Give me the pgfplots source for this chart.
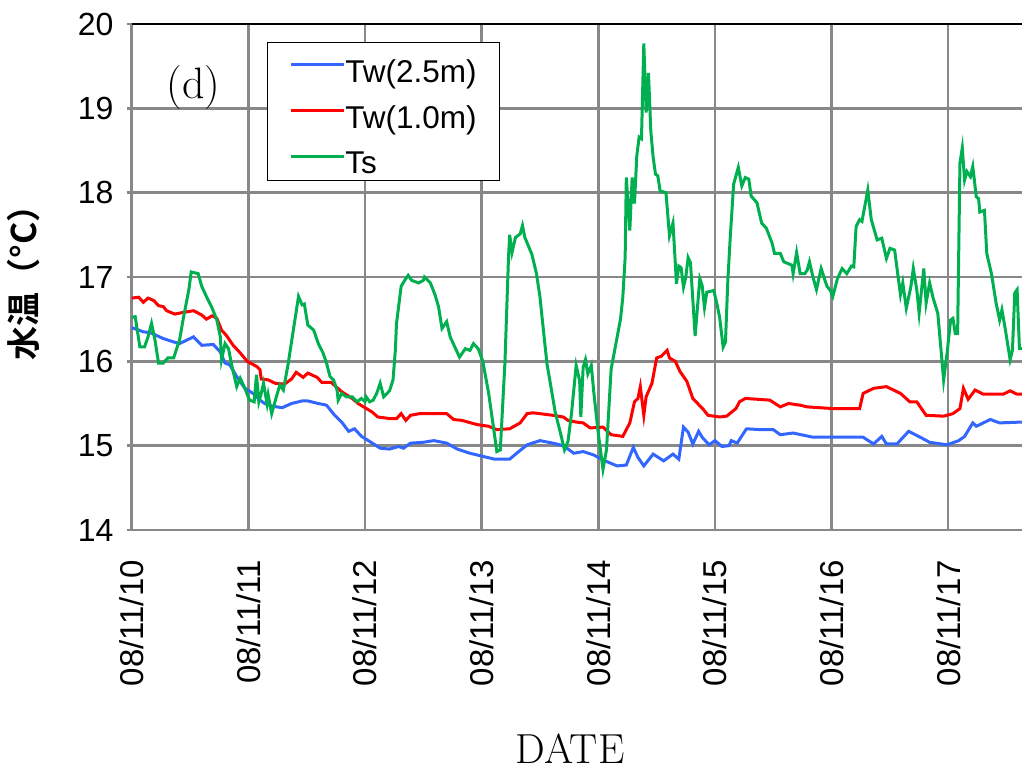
\documentclass[border=0pt]{standalone}
\usepackage{fontspec}
\usepackage{pgfplots}
\usepackage{pgfplotstable}
\pgfplotsset{compat=1.18}
\newfontfamily\arial{Liberation Sans}
\newfontfamily\cjk{Noto Sans CJK JP}[BoldFont={Noto Sans CJK JP Bold}]
\definecolor{cblue}{RGB}{51,102,255}
\definecolor{cred}{RGB}{255,0,0}
\definecolor{cgreen}{RGB}{0,176,80}
\definecolor{cgrid}{RGB}{136,136,136}

\pgfplotstableread{
d v
0.00 16.40
0.10 16.35
0.16 16.34
0.27 16.27
0.36 16.23
0.41 16.21
0.53 16.29
0.60 16.19
0.70 16.20
0.76 16.11
0.80 15.98
0.84 15.96
0.90 15.82
0.97 15.68
1.04 15.62
1.10 15.54
1.14 15.50
1.20 15.47
1.29 15.45
1.37 15.50
1.46 15.53
1.51 15.53
1.60 15.50
1.67 15.48
1.74 15.36
1.80 15.28
1.86 15.17
1.91 15.20
1.97 15.11
2.04 15.05
2.13 14.97
2.21 14.96
2.29 14.99
2.33 14.97
2.39 15.03
2.50 15.04
2.59 15.06
2.70 15.03
2.79 14.96
2.90 14.91
2.99 14.88
3.11 14.84
3.24 14.84
3.30 14.91
3.39 15.01
3.50 15.06
3.61 15.03
3.70 15.00
3.79 14.91
3.87 14.93
3.96 14.89
4.04 14.83
4.16 14.76
4.24 14.77
4.30 14.98
4.34 14.86
4.39 14.76
4.47 14.90
4.56 14.82
4.64 14.90
4.69 14.84
4.73 15.22
4.77 15.16
4.81 15.02
4.86 15.17
4.89 15.10
4.95 15.01
5.00 15.06
5.06 14.99
5.12 15.00
5.14 15.06
5.19 15.03
5.27 15.20
5.39 15.19
5.50 15.19
5.56 15.13
5.67 15.15
5.84 15.10
6.07 15.10
6.27 15.10
6.36 15.02
6.43 15.11
6.47 15.02
6.56 15.02
6.66 15.17
6.76 15.10
6.84 15.04
6.99 15.01
7.09 15.06
7.14 15.11
7.21 15.27
7.24 15.23
7.36 15.31
7.44 15.27
7.63 15.28
}\blue

\pgfplotstableread{
d v
0.00 16.75
0.06 16.76
0.10 16.70
0.14 16.75
0.19 16.72
0.23 16.66
0.27 16.65
0.30 16.60
0.37 16.56
0.44 16.58
0.53 16.60
0.60 16.55
0.64 16.50
0.69 16.54
0.73 16.51
0.77 16.37
0.81 16.31
0.87 16.19
0.93 16.10
0.99 16.00
1.07 15.94
1.10 15.90
1.11 15.79
1.17 15.78
1.23 15.74
1.31 15.73
1.37 15.79
1.41 15.87
1.47 15.81
1.51 15.86
1.59 15.81
1.63 15.75
1.71 15.75
1.80 15.64
1.89 15.56
1.94 15.50
2.00 15.45
2.06 15.40
2.11 15.34
2.22 15.32
2.27 15.32
2.31 15.38
2.35 15.30
2.39 15.36
2.47 15.38
2.70 15.38
2.76 15.31
2.83 15.30
2.96 15.25
3.06 15.23
3.13 15.19
3.24 15.20
3.33 15.27
3.39 15.38
3.44 15.39
3.61 15.36
3.70 15.34
3.74 15.30
3.81 15.28
3.87 15.27
3.93 15.21
4.04 15.22
4.11 15.13
4.21 15.11
4.27 15.27
4.31 15.52
4.34 15.56
4.36 15.70
4.39 15.36
4.41 15.58
4.46 15.74
4.50 16.04
4.54 16.06
4.59 16.13
4.61 16.04
4.66 16.00
4.70 15.88
4.76 15.76
4.81 15.56
4.90 15.43
4.94 15.36
5.04 15.34
5.10 15.35
5.18 15.44
5.21 15.52
5.26 15.56
5.47 15.54
5.56 15.46
5.63 15.50
5.73 15.48
5.79 15.46
6.01 15.44
6.24 15.44
6.27 15.62
6.36 15.68
6.47 15.70
6.59 15.62
6.67 15.52
6.73 15.52
6.81 15.36
6.96 15.35
7.04 15.38
7.10 15.44
7.13 15.68
7.17 15.55
7.23 15.66
7.30 15.61
7.47 15.61
7.53 15.65
7.59 15.61
7.63 15.61
}\red

\pgfplotstableread{
d v
0.00 16.52
0.03 16.53
0.07 16.17
0.11 16.17
0.14 16.29
0.17 16.45
0.20 16.25
0.23 15.98
0.27 15.98
0.31 16.04
0.36 16.04
0.39 16.17
0.41 16.25
0.44 16.49
0.49 16.85
0.51 17.06
0.57 17.04
0.60 16.89
0.64 16.77
0.69 16.63
0.73 16.49
0.76 16.29
0.77 16.02
0.80 16.21
0.83 16.15
0.86 15.94
0.90 15.70
0.93 15.80
0.97 15.68
1.01 15.54
1.05 15.52
1.07 15.84
1.09 15.52
1.11 15.62
1.13 15.74
1.16 15.50
1.17 15.60
1.20 15.38
1.24 15.58
1.27 15.72
1.30 15.66
1.34 15.96
1.39 16.41
1.43 16.77
1.46 16.67
1.48 16.68
1.51 16.43
1.56 16.37
1.60 16.21
1.64 16.10
1.67 15.98
1.70 15.82
1.73 15.78
1.76 15.66
1.77 15.54
1.80 15.62
1.84 15.58
1.89 15.58
1.93 15.52
1.97 15.56
2.00 15.52
2.01 15.58
2.04 15.52
2.07 15.54
2.10 15.62
2.13 15.74
2.16 15.58
2.21 15.65
2.24 15.78
2.26 16.13
2.27 16.45
2.31 16.89
2.34 16.96
2.37 17.02
2.40 16.96
2.46 16.93
2.50 16.96
2.51 17.00
2.56 16.93
2.60 16.79
2.63 16.65
2.66 16.39
2.70 16.47
2.73 16.29
2.77 16.17
2.81 16.05
2.86 16.15
2.90 16.13
2.93 16.21
2.97 16.15
3.01 16.00
3.06 15.62
3.10 15.23
3.13 14.93
3.16 14.95
3.20 16.00
3.23 17.23
3.24 17.50
3.26 17.29
3.29 17.47
3.33 17.51
3.35 17.61
3.37 17.47
3.40 17.37
3.43 17.27
3.47 17.04
3.50 16.76
3.53 16.36
3.56 15.97
3.59 15.73
3.63 15.40
3.67 15.18
3.71 14.95
3.74 15.05
3.77 15.38
3.81 15.95
3.84 15.77
3.85 15.34
3.87 15.93
3.89 16.02
3.91 15.85
3.94 15.95
3.96 15.65
4.00 15.14
4.04 14.72
4.07 14.95
4.11 15.91
4.14 16.13
4.19 16.50
4.21 16.76
4.23 17.23
4.24 18.18
4.27 17.55
4.29 18.18
4.31 17.87
4.33 18.44
4.35 18.66
4.37 18.64
4.39 19.77
4.41 18.95
4.43 19.42
4.45 18.73
4.47 18.42
4.49 18.22
4.51 18.20
4.53 18.02
4.58 18.00
4.61 17.49
4.64 17.64
4.67 16.92
4.69 17.13
4.71 17.11
4.73 16.88
4.75 17.00
4.77 17.23
4.79 17.17
4.83 16.30
4.87 16.98
4.89 16.90
4.91 16.64
4.93 16.82
4.99 16.84
5.02 16.66
5.04 16.52
5.07 16.17
5.09 16.23
5.11 16.95
5.13 17.45
5.16 18.10
5.20 18.30
5.23 18.08
5.26 18.18
5.29 18.16
5.31 17.96
5.36 17.88
5.40 17.64
5.44 17.58
5.49 17.40
5.51 17.28
5.56 17.28
5.59 17.18
5.66 17.14
5.67 17.04
5.70 17.29
5.73 17.04
5.77 17.04
5.79 17.08
5.81 17.18
5.84 17.00
5.87 16.85
5.91 17.10
5.96 16.89
5.99 16.84
6.01 16.77
6.05 16.98
6.09 17.10
6.13 17.04
6.17 17.13
6.19 17.12
6.21 17.60
6.24 17.68
6.26 17.66
6.31 18.03
6.34 17.68
6.39 17.44
6.43 17.46
6.47 17.22
6.50 17.34
6.54 17.32
6.59 16.79
6.61 16.93
6.64 16.63
6.68 16.89
6.70 17.10
6.73 16.85
6.75 16.57
6.79 17.10
6.81 16.69
6.84 16.93
6.87 16.75
6.91 16.57
6.94 16.10
6.96 15.78
6.99 16.10
7.02 16.49
7.04 16.51
7.06 16.33
7.08 16.33
7.10 18.35
7.12 18.53
7.14 18.15
7.16 18.25
7.19 18.19
7.21 18.31
7.24 17.95
7.26 17.93
7.27 17.77
7.31 17.79
7.33 17.28
7.37 17.04
7.41 16.69
7.44 16.49
7.46 16.61
7.49 16.37
7.53 16.02
7.55 16.13
7.57 16.81
7.59 16.85
7.61 16.15
7.63 16.15
}\green

\begin{document}
\begin{tikzpicture}
\path[use as bounding box] (-131.7pt,-240pt) rectangle (890.3pt,530pt);
\begin{axis}[
  at={(0pt,0pt)}, anchor=south west,
  scale only axis, width=890.3pt, height=506pt,
  xmin=0, xmax=7.632, ymin=14, ymax=20,
  clip=false,
  axis x line*=bottom, axis y line*=left,
  axis line style={cgrid, line width=2.6pt},
  grid=major,
  grid style={cgrid, line width=2.4pt},
  xtick={0,1,2,3,4,5,6,7},
  xticklabels={08/11/10,08/11/11,08/11/12,08/11/13,08/11/14,08/11/15,08/11/16,08/11/17},
  ytick={14,15,16,17,18,19,20},
  tick align=outside,
  major tick length=5pt,
  xtick style={draw=none},
  ytick style={cgrid, line width=2.4pt},
  /pgf/number format/assume math mode=true,
  xticklabel style={font=\arial\fontsize{33}{33}\selectfont, rotate=90, anchor=east, inner sep=0pt},
  xticklabel shift=25pt,
  yticklabel style={font=\arial\fontsize{32}{32}\selectfont, anchor=east, inner sep=0pt},
  yticklabel shift=13pt,
  xlabel={DATE},
  xlabel style={font=\fontsize{42}{44}\selectfont, at={(axis description cs:0.4923,0)}, anchor=base, yshift=-233pt},
  ylabel={\cjk\bfseries 水温（°C）},
  ylabel style={font=\fontsize{34}{36}\selectfont, at={(axis description cs:-0.1215,0.505)}, anchor=center, rotate=0},
  legend style={at={(axis description cs:0.1516,0.965)}, anchor=north west,
    draw=black, line width=1.3pt, fill=white,
    font=\arial\fontsize{31.5}{31.5}\selectfont,
    inner xsep=22.6pt, inner ysep=3pt, row sep=5.5pt,
    nodes={inner sep=0pt, text height=37pt, text depth=3.3pt},
    /tikz/every even column/.append style={column sep=5pt}},
  legend cell align=left,
  legend image code/.code={\draw[#1, line width=3pt] (0pt,1pt) -- (52.4pt,1pt);},
]
\addplot[cblue, line width=3pt] table[x=d,y=v] {\blue};
\addlegendentry{Tw(2.5m)}
\addplot[cred, line width=3pt] table[x=d,y=v] {\red};
\addlegendentry{Tw(1.0m)}
\addplot[cgreen, line width=3pt] table[x=d,y=v] {\green};
\addlegendentry{Ts}
\draw[black, line width=2.8pt] (rel axis cs:0,1) -- (rel axis cs:1,1);
\node[anchor=base, font=\fontsize{44}{48}\selectfont] at (axis description cs:0.0696,0.8532) {(d)};
\end{axis}
\end{tikzpicture}
\end{document}
